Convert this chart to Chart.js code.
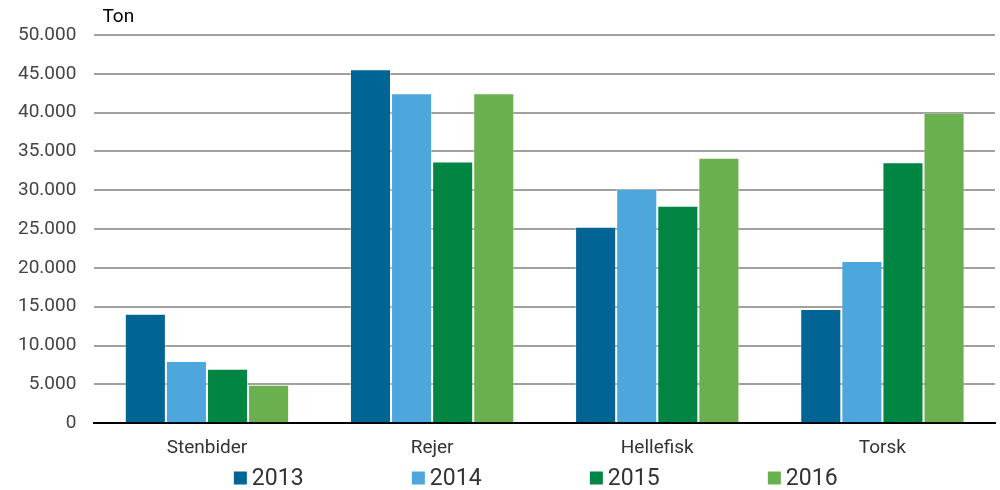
<!DOCTYPE html>
<html>
<head>
<meta charset="utf-8">
<script src="https://cdn.jsdelivr.net/npm/chart.js@4.4.0/dist/chart.umd.min.js"></script>
<style>
  html, body { margin: 0; padding: 0; background: #fff; }
  #wrap { width: 1000px; height: 490px; }
</style>
</head>
<body>
<div id="wrap"><canvas id="catchChart"></canvas></div>
<script>
// Data
const categories = ['Stenbider', 'Rejer', 'Hellefisk', 'Torsk'];
const years = ['2013', '2014', '2015', '2016'];
const values2013 = [14100, 45600, 25300, 14700];
const values2014 = [8000, 42500, 30200, 20900];
const values2015 = [7000, 33700, 28000, 33600];
const values2016 = [4950, 42500, 34200, 40000];
const colors = ['#006494', '#4da6dc', '#008542', '#6ab04f'];

const fontFamily = '"Roboto", sans-serif';

// "Ton" unit label above the y axis
const unitLabel = {
    id: 'unitLabel',
    afterDraw(chart) {
        const ctx = chart.ctx;
        ctx.save();
        ctx.font = '19px ' + fontFamily;
        ctx.fillStyle = '#000';
        ctx.textBaseline = 'middle';
        ctx.fillText('Ton', chart.chartArea.left + 8, 17);
        ctx.restore();
    }
};

// wide-spaced legend at the bottom, like the original
const bottomLegend = {
    id: 'bottomLegend',
    afterDraw(chart) {
        const ctx = chart.ctx;
        const area = chart.chartArea;
        const step = 178;
        const center = (area.left + area.right) / 2 - 9;
        const y = 478;
        ctx.save();
        ctx.font = '23px ' + fontFamily;
        ctx.textBaseline = 'middle';
        const itemW = 18 + ctx.measureText('2016').width;
        let x = center - (step * 3 + itemW) / 2;
        chart.data.datasets.forEach(ds => {
            ctx.fillStyle = ds.backgroundColor;
            ctx.fillRect(x, y - 6.5, 13, 13);
            ctx.fillStyle = '#333';
            ctx.fillText(ds.label, x + 18, y + 1);
            x += step;
        });
        ctx.restore();
    }
};

const ctx = document.getElementById('catchChart').getContext('2d');
new Chart(ctx, {
    type: 'bar',
    data: {
        labels: categories,
        datasets: [values2013, values2014, values2015, values2016].map((d, i) => ({
            label: years[i],
            data: d,
            backgroundColor: colors[i],
            borderColor: 'rgba(255,255,255,0.35)',
            borderWidth: 1,
            categoryPercentage: 0.73,
            barPercentage: 1
        }))
    },
    options: {
        responsive: true,
        maintainAspectRatio: false,
        animation: false,
        layout: { padding: { top: 35, right: 5, left: 0, bottom: 16 } },
        plugins: {
            legend: { display: false },
            tooltip: { enabled: false }
        },
        scales: {
            x: {
                grid: { display: false, drawTicks: false },
                border: { color: '#000', width: 2 },
                ticks: { color: '#333', font: { family: fontFamily, size: 19 }, padding: 14 }
            },
            y: {
                min: 0,
                max: 50000,
                grid: { color: '#a0a0a0', lineWidth: 2, drawTicks: false },
                border: { display: false },
                ticks: {
                    stepSize: 5000,
                    padding: 18,
                    color: '#444',
                    font: { family: fontFamily, size: 19 },
                    callback: v => v.toLocaleString('de-DE')
                }
            }
        }
    },
    plugins: [unitLabel, bottomLegend]
});
</script>
</body>
</html>
